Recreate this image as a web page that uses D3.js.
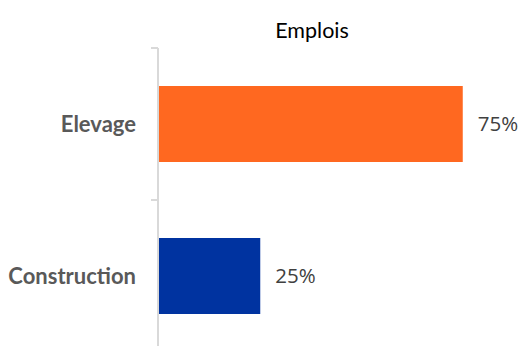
<!DOCTYPE html>
<html>
<head>
<meta charset="utf-8">
<script src="https://cdn.jsdelivr.net/npm/d3@7"></script>
<style>
  body { margin: 0; background: #fff; }
  svg { display: block; }
</style>
</head>
<body>
<div id="chart"></div>
<script>
const categories = ['Elevage', 'Construction']
const values = [0.75, 0.25]
const valueLabels = ['75%', '25%']
const colors = ['#FF6820', '#0033A0']
const title = 'Emplois'

const width = 521
const height = 346

// zone du graphique
const margin = { top: 48, left: 159 }
const plotHeight = 304

const svg = d3.select('#chart')
  .append('svg')
  .attr('width', width)
  .attr('height', height)

const yScale = d3.scaleBand()
  .domain(categories)
  .range([margin.top, margin.top + plotHeight])
  .paddingInner(0.5)
  .paddingOuter(0.25)

const xScale = d3.scaleLinear()
  .domain([0, 1])
  .range([margin.left, margin.left + 405])

// titre
svg.append('text')
  .attr('x', 312)
  .attr('y', 38)
  .attr('text-anchor', 'middle')
  .attr('font-family', 'Lato, sans-serif')
  .attr('font-size', 21.5)
  .attr('fill', '#000')
  .text(title)

// barres
svg.selectAll('.bar')
  .data(categories)
  .enter()
  .append('rect')
  .attr('class', 'bar')
  .attr('x', xScale(0))
  .attr('y', d => yScale(d))
  .attr('width', (d, i) => xScale(values[i]) - xScale(0))
  .attr('height', yScale.bandwidth())
  .attr('fill', (d, i) => colors[i])

// axe vertical avec graduations entre les catégories
const axisX = xScale(0) - 1
const step = yScale.step()
const tickYs = d3.range(categories.length + 1).map(i => margin.top + i * step)

svg.append('line')
  .attr('x1', axisX).attr('x2', axisX)
  .attr('y1', margin.top).attr('y2', margin.top + plotHeight)
  .attr('stroke', '#d9d9d9')
  .attr('stroke-width', 2)

svg.selectAll('.tick')
  .data(tickYs)
  .enter()
  .append('line')
  .attr('class', 'tick')
  .attr('x1', axisX - 7).attr('x2', axisX)
  .attr('y1', d => d).attr('y2', d => d)
  .attr('stroke', '#d9d9d9')
  .attr('stroke-width', 2)

// libellés des catégories
svg.selectAll('.cat')
  .data(categories)
  .enter()
  .append('text')
  .attr('class', 'cat')
  .attr('x', axisX - 22)
  .attr('y', d => yScale(d) + yScale.bandwidth() / 2)
  .attr('dy', '0.35em')
  .attr('text-anchor', 'end')
  .attr('font-family', 'Lato, sans-serif')
  .attr('font-weight', 'bold')
  .attr('font-size', 22)
  .attr('fill', '#595959')
  .text(d => d)

// étiquettes de valeurs
svg.selectAll('.val')
  .data(categories)
  .enter()
  .append('text')
  .attr('class', 'val')
  .attr('x', (d, i) => xScale(values[i]) + 15)
  .attr('y', d => yScale(d) + yScale.bandwidth() / 2)
  .attr('dy', '0.35em')
  .attr('font-family', '"Open Sans", sans-serif')
  .attr('font-size', 20.5)
  .attr('fill', '#404040')
  .text((d, i) => valueLabels[i])
</script>
</body>
</html>
